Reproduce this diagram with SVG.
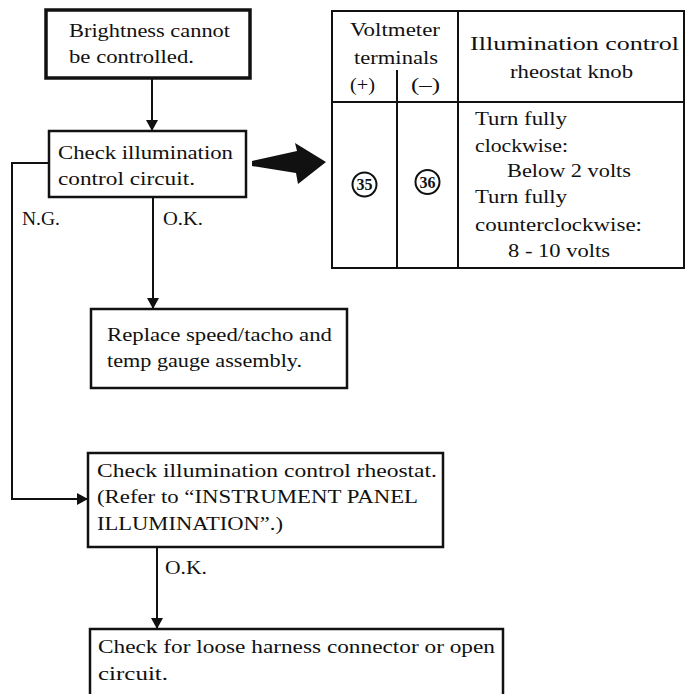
<svg xmlns="http://www.w3.org/2000/svg" width="691" height="694" viewBox="0 0 691 694">
  <style>
    .box { fill: #ffffff; stroke: #111111; stroke-width: 2.5; }
    .thick { stroke-width: 3.5; }
    .grid { fill: none; stroke: #111111; stroke-width: 2; }
    .wire { fill: none; stroke: #111111; stroke-width: 2; }
    text { font-family: "Liberation Serif", "Times New Roman", serif; font-size: 19px; fill: #111111; }
    .num { font-size: 16px; font-weight: bold; text-anchor: middle; }
  </style>
  <defs>
    <marker id="head" markerWidth="12" markerHeight="12" refX="11" refY="6" orient="auto" markerUnits="userSpaceOnUse">
      <path d="M0,0 L11,6 L0,12 Z" fill="#111111"/>
    </marker>
  </defs>
  <rect width="691" height="694" fill="#ffffff"/>

  <!-- connectors -->
  <g id="connectors">
    <line class="wire" x1="152" y1="78" x2="152" y2="131" marker-end="url(#head)"/>
    <line class="wire" x1="153" y1="197" x2="153" y2="309" marker-end="url(#head)"/>
    <polyline class="wire" points="49,163 12,163 12,499 88,499" marker-end="url(#head)"/>
    <line class="wire" x1="157" y1="547" x2="157" y2="629" marker-end="url(#head)"/>
    <path d="M252,161 L297,151 L295,143 L326,162 L298,184 L296,173 L252,166 Z" fill="#111111"/>
    <text x="22" y="225" textLength="38" lengthAdjust="spacingAndGlyphs">N.G.</text>
    <text x="163" y="225" textLength="40" lengthAdjust="spacingAndGlyphs">O.K.</text>
    <text x="165" y="574" textLength="42" lengthAdjust="spacingAndGlyphs">O.K.</text>
  </g>

  <!-- start -->
  <g id="start">
    <rect class="box thick" x="46" y="10" width="204" height="68"/>
    <text x="69" y="37" textLength="161" lengthAdjust="spacingAndGlyphs">Brightness cannot</text>
    <text x="69" y="63" textLength="125" lengthAdjust="spacingAndGlyphs">be controlled.</text>
  </g>

  <!-- check circuit -->
  <g id="check-circuit">
    <rect class="box" x="49" y="131" width="197" height="66"/>
    <text x="58" y="159" textLength="175" lengthAdjust="spacingAndGlyphs">Check illumination</text>
    <text x="58" y="185" textLength="137" lengthAdjust="spacingAndGlyphs">control circuit.</text>
  </g>

  <!-- replace gauge -->
  <g id="replace-gauge">
    <rect class="box" x="91" y="309" width="256" height="79"/>
    <text x="107" y="341" textLength="225" lengthAdjust="spacingAndGlyphs">Replace speed/tacho and</text>
    <text x="107" y="367" textLength="195" lengthAdjust="spacingAndGlyphs">temp gauge assembly.</text>
  </g>

  <!-- check rheostat -->
  <g id="check-rheostat">
    <rect class="box" x="88" y="453" width="355" height="94"/>
    <text x="97" y="477" textLength="340" lengthAdjust="spacingAndGlyphs">Check illumination control rheostat.</text>
    <text x="97" y="503" textLength="321" lengthAdjust="spacingAndGlyphs">(Refer to “INSTRUMENT PANEL</text>
    <text x="97" y="530" textLength="186" lengthAdjust="spacingAndGlyphs">ILLUMINATION”.)</text>
  </g>

  <!-- check harness -->
  <g id="check-harness">
    <rect class="box" x="90" y="629" width="413" height="80"/>
    <text x="98" y="653" textLength="397" lengthAdjust="spacingAndGlyphs">Check for loose harness connector or open</text>
    <text x="98" y="680" textLength="70" lengthAdjust="spacingAndGlyphs">circuit.</text>
  </g>

  <!-- voltage table -->
  <g id="voltage-table">
    <rect class="grid" x="332" y="11" width="352" height="257"/>
    <line class="grid" x1="332" y1="102" x2="684" y2="102"/>
    <line class="grid" x1="458" y1="11" x2="458" y2="268"/>
    <line class="grid" x1="397" y1="70" x2="397" y2="268"/>
    <text x="350" y="36" textLength="90" lengthAdjust="spacingAndGlyphs">Voltmeter</text>
    <text x="354" y="64" textLength="84" lengthAdjust="spacingAndGlyphs">terminals</text>
    <text x="350" y="91" textLength="25" lengthAdjust="spacingAndGlyphs">(+)</text>
    <text x="411" y="91" textLength="29" lengthAdjust="spacingAndGlyphs">(–)</text>
    <text x="470" y="50" textLength="209" lengthAdjust="spacingAndGlyphs">Illumination control</text>
    <text x="510" y="78" textLength="123" lengthAdjust="spacingAndGlyphs">rheostat knob</text>
    <circle cx="364.5" cy="184.5" r="12" fill="none" stroke="#111111" stroke-width="2"/>
    <text class="num" x="364.5" y="190">35</text>
    <circle cx="427.5" cy="182" r="12" fill="none" stroke="#111111" stroke-width="2"/>
    <text class="num" x="427.5" y="187.5">36</text>
    <text x="475" y="125" textLength="92" lengthAdjust="spacingAndGlyphs">Turn fully</text>
    <text x="475" y="152" textLength="93" lengthAdjust="spacingAndGlyphs">clockwise:</text>
    <text x="507" y="177" textLength="124" lengthAdjust="spacingAndGlyphs">Below 2 volts</text>
    <text x="475" y="203" textLength="92" lengthAdjust="spacingAndGlyphs">Turn fully</text>
    <text x="475" y="231" textLength="167" lengthAdjust="spacingAndGlyphs">counterclockwise:</text>
    <text x="508" y="257" textLength="102" lengthAdjust="spacingAndGlyphs">8 - 10 volts</text>
  </g>
</svg>
